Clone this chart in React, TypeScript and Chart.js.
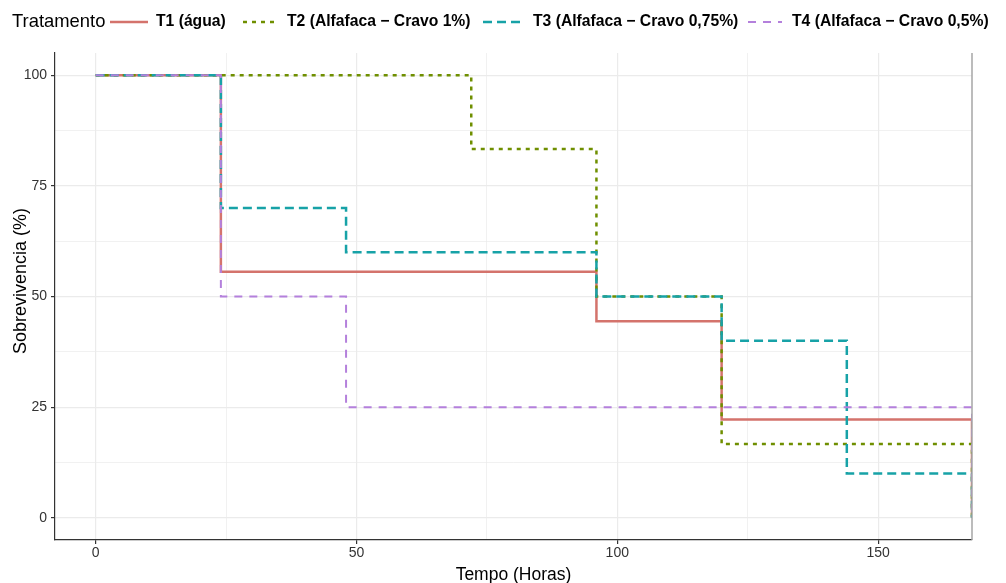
import React, { useEffect, useRef } from "react";
import { Chart, registerables } from "chart.js";

Chart.register(...registerables);

// ---- Data (Kaplan–Meier steps: time in hours, survival in %) ----
const t1Times = [0, 24, 96, 120, 168];
const t1Surv = [100, 55.6, 44.4, 22.2, 0];
const t2Times = [0, 72, 96, 120, 168];
const t2Surv = [100, 83.3, 50, 16.7, 0];
const t3Times = [0, 24, 48, 96, 120, 144, 168];
const t3Surv = [100, 70, 60, 50, 40, 10, 0];
const t4Times = [0, 24, 48, 168];
const t4Surv = [100, 50, 25, 0];

const seriesLabels = [
  "T1 (água)",
  "T2 (Alfafaca − Cravo 1%)",
  "T3 (Alfafaca − Cravo 0,75%)",
  "T4 (Alfafaca − Cravo 0,5%)",
];
const legendTitle = "Tratamento";
const xTickValues = [0, 25, 50, 75, 100, 125, 150];
const yTickValues = [0, 12.5, 25, 37.5, 50, 62.5, 75, 87.5, 100];
const xTitle = "Tempo (Horas)";
const yTitle = "Sobrevivencia (%)";

const colors = ["#D4736C", "#6F8F00", "#17A2A7", "#B480DC"];
const dashes: number[][] = [[], [4, 5], [9, 5], [8, 7]];
const widths = [2.5, 2.5, 2.5, 2];

const FONT = "'Liberation Sans', Arial, sans-serif";

function toPoints(times: number[], surv: number[]) {
  return times.map((t, i) => ({ x: t, y: surv[i] }));
}

const decorPlugin = {
  id: "decor",
  afterDraw(chart: any) {
    const ctx = chart.ctx;
    const ca = chart.chartArea;
    ctx.save();
    // right panel edge
    ctx.strokeStyle = "#A6A6A6";
    ctx.lineWidth = 1.5;
    ctx.beginPath();
    ctx.moveTo(ca.right, ca.top);
    ctx.lineTo(ca.right, ca.bottom);
    ctx.stroke();

    // axis titles
    ctx.fillStyle = "#000";
    ctx.textBaseline = "middle";
    ctx.textAlign = "center";
    ctx.font = `17.5px ${FONT}`;
    ctx.fillText(xTitle, (ca.left + ca.right) / 2, 575);
    ctx.save();
    ctx.translate(21.5, 281);
    ctx.rotate(-Math.PI / 2);
    ctx.font = `18px ${FONT}`;
    ctx.fillText(yTitle, 0, 0);
    ctx.restore();

    // legend
    const cy = 22;
    ctx.textAlign = "left";
    ctx.font = `18.4px ${FONT}`;
    ctx.fillText(legendTitle, 12, cy);
    const samples = [
      [110, 148],
      [243, 275],
      [483, 523],
      [748, 782],
    ];
    const textX = [156, 287, 533, 792];
    for (let i = 0; i < 4; i++) {
      ctx.strokeStyle = colors[i];
      ctx.lineWidth = widths[i];
      ctx.setLineDash(dashes[i]);
      ctx.beginPath();
      ctx.moveTo(samples[i][0], cy);
      ctx.lineTo(samples[i][1], cy);
      ctx.stroke();
      ctx.setLineDash([]);
      ctx.font = `bold 15.7px ${FONT}`;
      ctx.fillStyle = "#000";
      ctx.fillText(seriesLabels[i], textX[i], cy);
    }
    ctx.restore();
  },
};

export default function App() {
  const ref = useRef<HTMLCanvasElement>(null);
  useEffect(() => {
    document.body.style.margin = "0";
    const all = [
      toPoints(t1Times, t1Surv),
      toPoints(t2Times, t2Surv),
      toPoints(t3Times, t3Surv),
      toPoints(t4Times, t4Surv),
    ];
    const chart = new Chart(ref.current!, {
      type: "line",
      data: {
        datasets: all.map((pts, i) => ({
          label: seriesLabels[i],
          data: pts,
          borderColor: colors[i],
          borderWidth: widths[i],
          borderDash: dashes[i],
          pointRadius: 0,
          stepped: "before" as const,
          fill: false,
          order: 4 - i,
        })),
      },
      options: {
        animation: false,
        responsive: false,
        maintainAspectRatio: false,
        layout: { padding: { top: 53, right: 34, left: 0, bottom: 0 } },
        plugins: { legend: { display: false }, tooltip: { enabled: false } },
        scales: {
          x: {
            type: "linear",
            min: -7.8,
            max: 168,
            afterBuildTicks: (s: any) => {
              s.ticks = xTickValues.map((v) => ({ value: v }));
            },
            afterFit: (s: any) => {
              s.height = 43;
            },
            ticks: {
              callback: (v: any) => (Number(v) % 50 === 0 ? String(v) : ""),
              font: { size: 14, family: FONT },
              color: "#333",
              padding: 1,
              maxRotation: 0,
              autoSkip: false,
            },
            grid: {
              color: "#EBEBEB",
              lineWidth: (c: any) => (c.tick && c.tick.value % 50 === 0 ? 1.2 : 0.7),
              tickColor: (c: any) =>
                c.tick && c.tick.value % 50 === 0 ? "#333" : "rgba(0,0,0,0)",
              tickLength: 4,
            },
            border: { color: "#333", width: 1.2 },
            title: { display: false },
          },
          y: {
            type: "linear",
            min: -5,
            max: 105,
            afterBuildTicks: (s: any) => {
              s.ticks = yTickValues.map((v) => ({ value: v }));
            },
            afterFit: (s: any) => {
              s.width = 55;
            },
            ticks: {
              callback: (v: any) => (Number(v) % 25 === 0 ? String(v) : ""),
              font: { size: 14, family: FONT },
              color: "#333",
              padding: 4,
              autoSkip: false,
            },
            grid: {
              color: "#EBEBEB",
              lineWidth: (c: any) => (c.tick && c.tick.value % 25 === 0 ? 1.2 : 0.7),
              tickColor: (c: any) =>
                c.tick && c.tick.value % 25 === 0 ? "#333" : "rgba(0,0,0,0)",
              tickLength: 4,
            },
            border: { color: "#333", width: 1.2 },
            title: { display: false },
          },
        },
      },
      plugins: [decorPlugin],
    });
    return () => chart.destroy();
  }, []);
  return (
    <div style={{ width: 1006, height: 583, background: "#fff" }}>
      <canvas ref={ref} width={1006} height={583} style={{ display: "block" }} />
    </div>
  );
}
